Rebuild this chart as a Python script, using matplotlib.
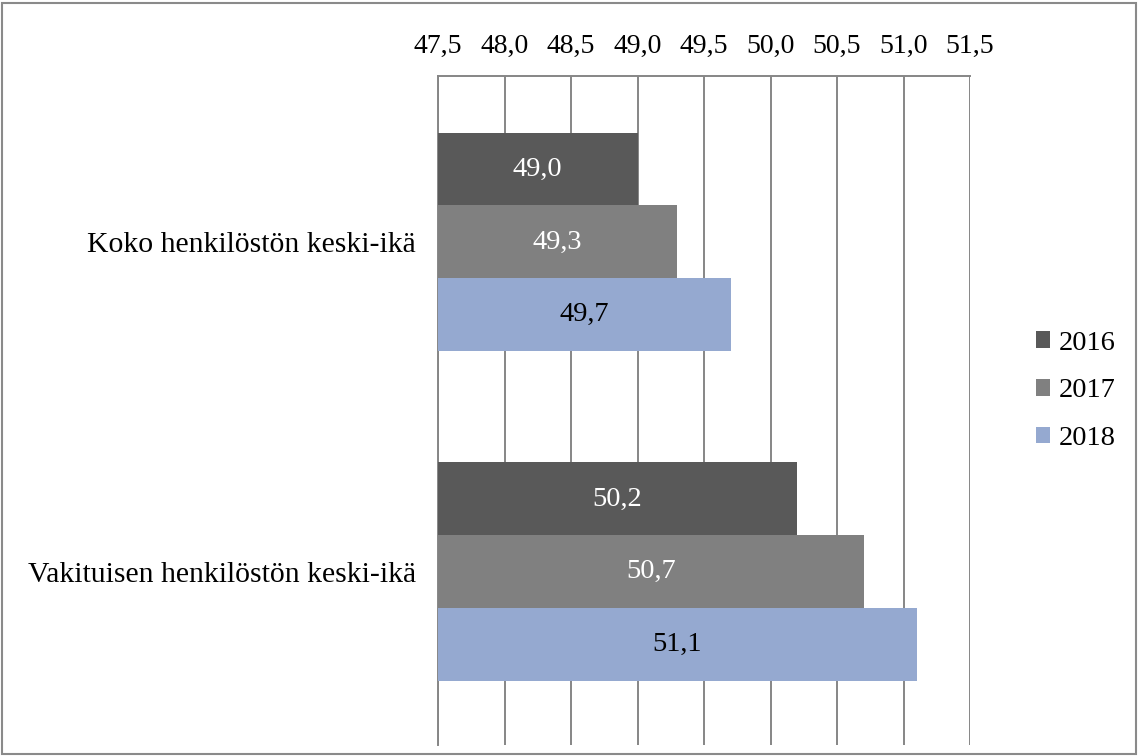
import numpy as np
import matplotlib
matplotlib.use("Agg")
import matplotlib.pyplot as plt
from matplotlib.patches import Patch, Rectangle

plt.rcParams['font.family'] = ['Liberation Serif', 'DejaVu Serif']

categories = ["Koko henkilöstön keski-ikä", "Vakituisen henkilöstön keski-ikä"]
years = ["2016", "2017", "2018"]
values_2016 = [49.0, 50.2]
values_2017 = [49.3, 50.7]
values_2018 = [49.7, 51.1]
colors = ["#595959", "#808080", "#95a9d0"]
label_colors = ["white", "white", "black"]
xticks = [47.5, 48.0, 48.5, 49.0, 49.5, 50.0, 50.5, 51.0, 51.5]

fig = plt.figure(figsize=(11.38, 7.56), dpi=100)
ax = fig.add_axes([438 / 1138, 11 / 756, 532 / 1138, 669 / 756])

y = np.arange(len(categories))
h = 0.221
xmin = xticks[0]
series = [values_2016, values_2017, values_2018]
for i, vals in enumerate(series):
    pos = y + (i - 1) * h
    ax.barh(pos, vals, height=h, color=colors[i], zorder=3, label=years[i])
    for p, v in zip(pos, vals):
        ax.text((xmin + v) / 2, p, f"{v:.1f}".replace(".", ","),
                ha="center", va="center", fontsize=20.5,
                color=label_colors[i], zorder=4)

ax.set_xlim(xmin, xticks[-1])
# a little extra room under the last group, gridlines run past it
ax.set_ylim(len(categories) - 0.5 + 0.025, -0.5 - 0.003)
ax.xaxis.tick_top()
ax.set_xticks(xticks)
ax.set_xticklabels([f"{t:.1f}".replace(".", ",") for t in xticks], fontsize=20)
ax.tick_params(axis="x", length=0, pad=12)
ax.set_yticks(y)
ax.set_yticklabels(categories, fontsize=21.4)
ax.tick_params(axis="y", length=0, pad=16)

ax.grid(axis="x", color="#868686", linewidth=1.4, zorder=0)
for s in ["bottom", "right"]:
    ax.spines[s].set_visible(False)
for s in ["top", "left"]:
    ax.spines[s].set_color("#868686")
    ax.spines[s].set_linewidth(1.4)

handles = [Patch(facecolor=c, edgecolor="none") for c in colors]
fig.legend(handles, years, loc="center left",
           bbox_to_anchor=(1036 / 1138, 1 - 391 / 756),
           frameon=False, fontsize=20.5, handlelength=0.5, handleheight=0.5,
           handletextpad=0.3, labelspacing=0.8, borderpad=0, borderaxespad=0)

fig.patches.append(Rectangle((0.002, 0.003), 0.996, 0.993, transform=fig.transFigure,
                             fill=False, edgecolor="#8a8a8a", linewidth=1.5))

fig.savefig("out.png", dpi=100)
